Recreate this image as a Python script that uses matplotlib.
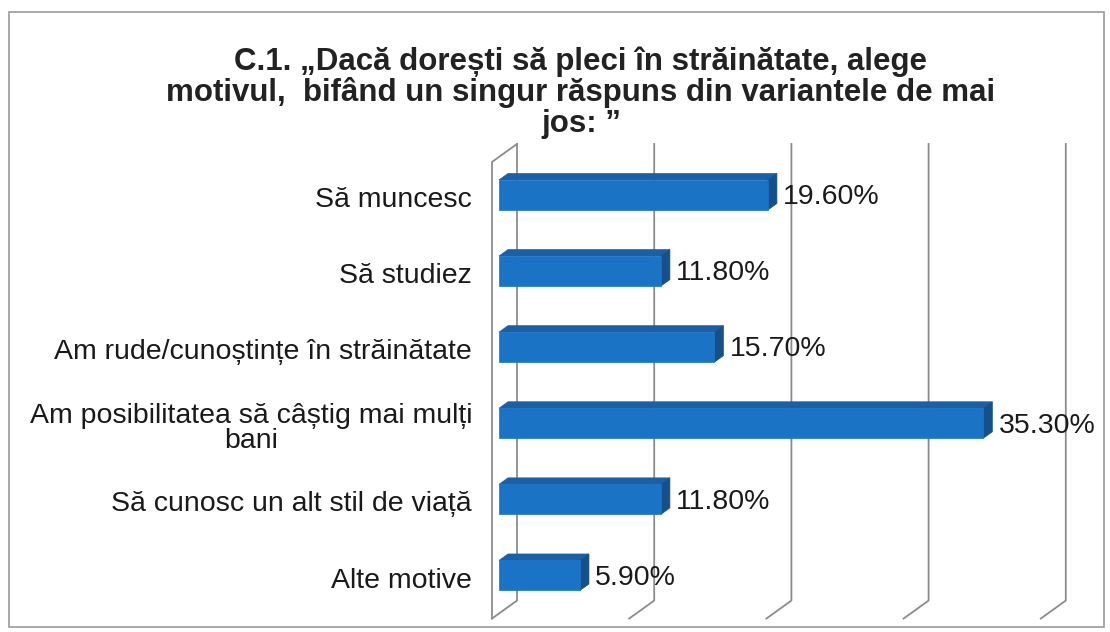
import matplotlib
matplotlib.use('Agg')
import matplotlib.pyplot as plt
from matplotlib.patches import Polygon, Rectangle

# ---- data ----
categories = ["Să muncesc", "Să studiez", "Am rude/cunoștințe în străinătate",
              "Am posibilitatea să câștig mai mulți\nbani",
              "Să cunosc un alt stil de viață", "Alte motive"]
values = [19.6, 11.8, 15.7, 35.3, 11.8, 5.9]
value_labels = ["19.60%", "11.80%", "15.70%", "35.30%", "11.80%", "5.90%"]
grid_ticks = [0, 10, 20, 30, 40]
title_lines = ["C.1. „Dacă dorești să pleci în străinătate, alege",
               "motivul,  bifând un singur răspuns din variantele de mai",
               "jos: ”"]

plt.rcParams['font.family'] = ['Liberation Sans', 'DejaVu Sans']

W, H = 1110, 632
fig = plt.figure(figsize=(W / 100, H / 100), dpi=100)
fig.patch.set_facecolor('white')
ax = fig.add_axes([0, 0, 1, 1])

# pixel mapping of the front plane
x0px, xscale = 492, 13.72
y0px, yscale = 200, 76.1
ax.set_xlim(-x0px / xscale, (W - x0px) / xscale)
ax.set_ylim((H - y0px) / yscale, -y0px / yscale)
ax.axis('off')

DX = 25 / xscale
DY = -18 / yscale


def P(x, y, d):
    return (x + d * DX, y + d * DY)


n = len(categories)
ytop, ybot = -0.5, n - 0.5
grid_color = '#8c8c8c'

# outer frame
frame = Rectangle((9 / W, 1 - 627 / H), (1104 - 9) / W, (627 - 12) / H,
                  transform=fig.transFigure, fill=False, edgecolor='#9a9a9a', lw=1.2)
fig.patches.append(frame)

# gridlines on back wall + floor
for t in grid_ticks:
    pts = [P(t, ytop, 1), P(t, ybot, 1), P(t, ybot, 0)]
    ax.plot([p[0] for p in pts], [p[1] for p in pts], color=grid_color, lw=1.3, zorder=1)
# left side wall
pts = [P(0, ybot, 0), P(0, ytop, 0), P(0, ytop, 1)]
ax.plot([p[0] for p in pts], [p[1] for p in pts], color=grid_color, lw=1.3, zorder=1)

# bars
h = 30 / yscale
f0, f1 = 0.28, 0.64
c_front, c_top, c_side = '#1a73c5', '#1d5fa3', '#15508a'
for i, (v, lab) in enumerate(zip(values, value_labels)):
    yt, yb = i - h / 2, i + h / 2
    front = [P(0, yt, f0), P(v, yt, f0), P(v, yb, f0), P(0, yb, f0)]
    top = [P(0, yt, f0), P(v, yt, f0), P(v, yt, f1), P(0, yt, f1)]
    side = [P(v, yt, f0), P(v, yt, f1), P(v, yb, f1), P(v, yb, f0)]
    ax.add_patch(Polygon(top, closed=True, facecolor=c_top, edgecolor=c_top, lw=0.5, zorder=3))
    ax.add_patch(Polygon(side, closed=True, facecolor=c_side, edgecolor=c_side, lw=0.5, zorder=3))
    ax.add_patch(Polygon(front, closed=True, facecolor=c_front, edgecolor=c_front, lw=0.5, zorder=4))
    lx = P(v, i, f1)[0] + 0.45
    ly = P(v, i, f0)[1] + 0.03
    ax.text(lx, ly, lab, ha='left', va='center', fontsize=20.5, color='#1a1a1a', zorder=5)

# category labels
for i, c in enumerate(categories):
    ax.text((472 - x0px) / xscale, i, c, ha='right', va='center', multialignment='center',
            fontsize=20.5, color='#1a1a1a', linespacing=0.95)

# title
for k, line in enumerate(title_lines):
    fig.text(581 / W, 1 - (70 + 31 * k) / H, line, ha='center', va='baseline',
             fontsize=22.5, fontweight='bold', color='#222222')

fig.savefig('out.png', dpi=100, facecolor='white')
